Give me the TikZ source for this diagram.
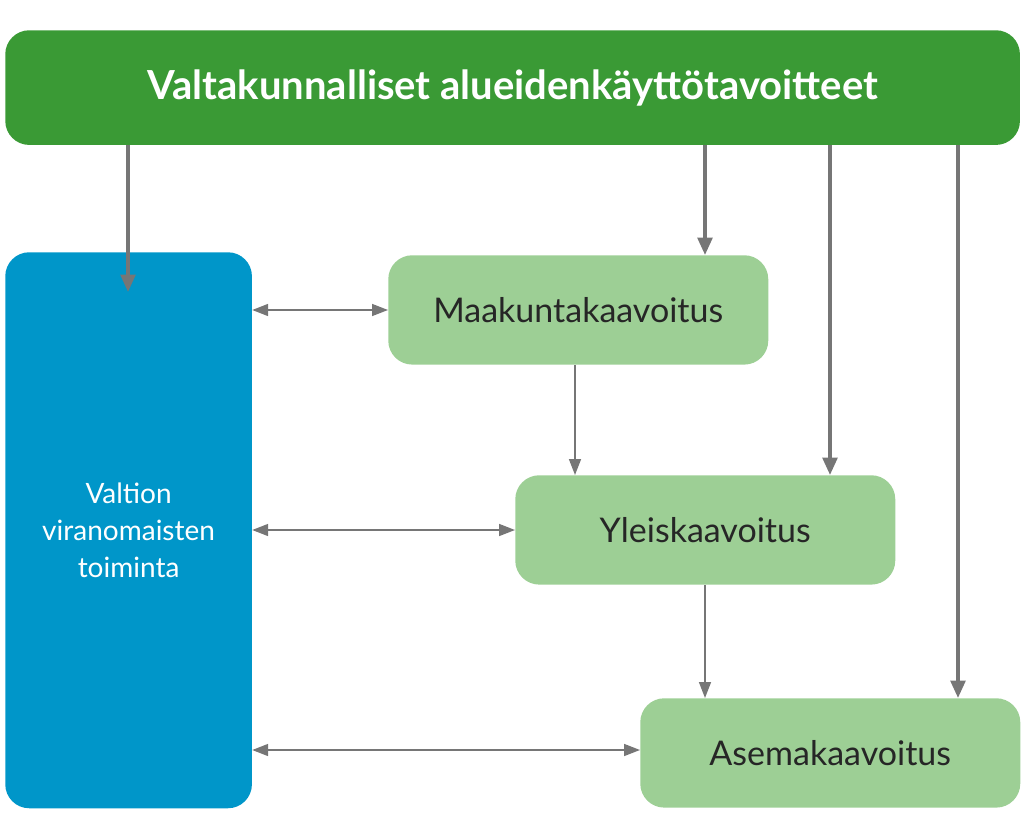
\documentclass[tikz,border=0pt]{standalone}
\usepackage{fontspec}
\setmainfont{Lato}
\usetikzlibrary{arrows.meta}
\definecolor{dgreen}{HTML}{3A9A35}
\definecolor{lgreen}{HTML}{9DCF95}
\definecolor{vblue}{HTML}{0096C9}
\definecolor{agray}{HTML}{767676}
\begin{document}
\begin{tikzpicture}[x=0.75pt,y=-0.75pt,
  box/.style={rounded corners=18pt,inner sep=0pt,anchor=north west},
  lbox/.style={box,fill=lgreen,minimum width=285pt,minimum height=82pt,font=\fontsize{25.5}{30}\selectfont,text=black!85},
  thick arr/.style={draw=agray,line width=2.6pt,-{Triangle[length=13pt,width=11pt]}},
  thin arr/.style={draw=agray,line width=1.2pt,-{Triangle[length=12pt,width=9pt]}},
  dbl arr/.style={draw=agray,line width=1.2pt,{Triangle[length=12pt,width=9pt]}-{Triangle[length=12pt,width=9pt]}}]
\useasboundingbox (0,0) rectangle (1024,838);
\node[box,fill=dgreen,minimum width=761pt,minimum height=86pt,text=white,font=\bfseries\fontsize{30}{34}\selectfont] (top) at (5,30) {Valtakunnalliset alueidenkäyttötavoitteet};
\node[box,fill=vblue,minimum width=185pt,minimum height=417pt,text=white,align=center,font=\fontsize{21}{28}\selectfont] (blue) at (5,252) {Valtion\\viranomaisten\\toiminta};
\node[lbox] (maa) at (388,255) {Maakuntakaavoitus};
\node[lbox] (yle) at (515,475) {Yleiskaavoitus};
\node[lbox] (ase) at (640,698) {Asemakaavoitus};
\coordinate (bt) at (128,292);
\draw[thick arr] (top.south -| bt) -- (bt);
\draw[thick arr] (top.south -| 705,0) -- (maa.north -| 705,0);
\draw[thick arr] (top.south -| 830,0) -- (yle.north -| 830,0);
\draw[thick arr] (top.south -| 958,0) -- (ase.north -| 958,0);
\draw[thin arr] (maa.south -| 575,0) -- (yle.north -| 575,0);
\draw[thin arr] (yle.south -| 705,0) -- (ase.north -| 705,0);
\draw[dbl arr] (blue.east |- 0,310) -- (maa.west |- 0,310);
\draw[dbl arr] (blue.east |- 0,530) -- (yle.west |- 0,530);
\draw[dbl arr] (blue.east |- 0,750) -- (ase.west |- 0,750);
\end{tikzpicture}
\end{document}
